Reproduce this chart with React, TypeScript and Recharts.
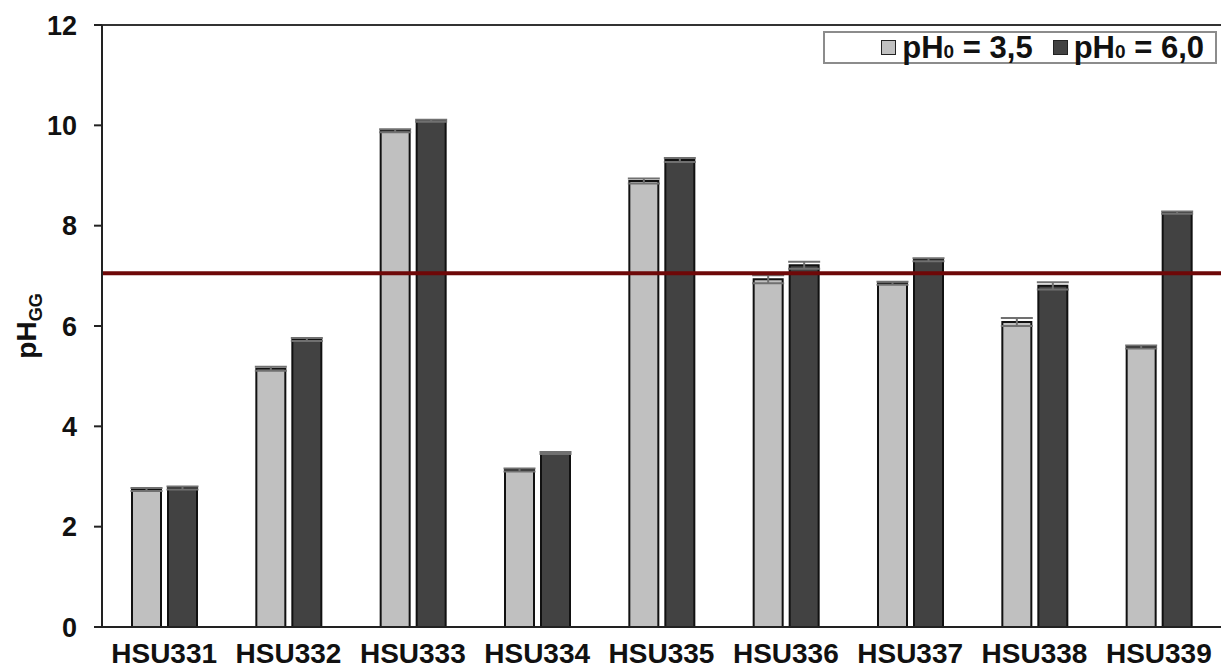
import { Bar, BarChart, ErrorBar, ReferenceLine, XAxis, YAxis } from "recharts";

const categories = ["HSU331", "HSU332", "HSU333", "HSU334", "HSU335", "HSU336", "HSU337", "HSU338", "HSU339"];
const ph35 = [2.74, 5.15, 9.89, 3.13, 8.89, 6.93, 6.85, 6.08, 5.58];
const ph60 = [2.77, 5.73, 10.09, 3.47, 9.31, 7.21, 7.32, 6.8, 8.26];
const err35 = [0.03, 0.04, 0.03, 0.03, 0.05, 0.08, 0.03, 0.08, 0.03];
const err60 = [0.03, 0.03, 0.02, 0.02, 0.04, 0.07, 0.03, 0.07, 0.02];
const yTicks = [0, 2, 4, 6, 8, 10, 12];
const threshold = 7.05;

const data = categories.map((name, i) => ({
  name,
  a: ph35[i],
  b: ph60[i],
  ea: err35[i],
  eb: err60[i],
}));

const font = "'Liberation Sans', Arial, sans-serif";
const lightFill = "#c0c0c0";
const darkFill = "#424242";

function YLabel() {
  return (
    <text
      x={0}
      y={0}
      transform="translate(36, 326) rotate(-90)"
      textAnchor="middle"
      fontFamily={font}
      fontWeight="bold"
      fontSize={28}
      fill="#111"
    >
      pH
      <tspan fontSize={18} dy={6}>
        GG
      </tspan>
    </text>
  );
}

function LegendBox() {
  const item = (fill: string, label: string, gap: number) => (
    <span style={{ display: "inline-flex", alignItems: "center", marginLeft: gap }}>
      <span
        style={{
          display: "inline-block",
          boxSizing: "border-box",
          width: 15,
          height: 15,
          background: fill,
          border: "1.5px solid #222",
          marginRight: 6,
        }}
      />
      <span>
        pH<span style={{ fontSize: 19 }}>0</span> = {label}
      </span>
    </span>
  );
  return (
    <div
      style={{
        position: "absolute",
        left: 823,
        top: 31,
        boxSizing: "border-box",
        width: 394,
        height: 33,
        border: "2px solid #8c8c8c",
        display: "flex",
        justifyContent: "flex-end",
        alignItems: "center",
        paddingRight: 11,
        fontFamily: font,
        fontWeight: "bold",
        fontSize: 31,
        color: "#111",
        background: "#fff",
        lineHeight: 1,
      }}
    >
      {item(lightFill, "3,5", 0)}
      {item(darkFill, "6,0", 20)}
    </div>
  );
}

export default function App() {
  return (
    <div style={{ position: "absolute", left: 0, top: 0, width: 1221, height: 672, background: "#fff" }}>
      <BarChart
        width={1221}
        height={672}
        data={data}
        margin={{ top: 25, right: 0, bottom: 0, left: 0 }}
        barSize={29}
        barGap={7}
      >
        <XAxis
          dataKey="name"
          height={45}
          axisLine={{ stroke: "#222", strokeWidth: 2 }}
          tickLine={false}
          tickSize={0}
          tickMargin={16}
          tick={{ fontFamily: font, fontWeight: "bold", fontSize: 28, fill: "#111" }}
          interval={0}
        />
        <YAxis
          width={102}
          domain={[0, 12]}
          ticks={yTicks}
          axisLine={{ stroke: "#222", strokeWidth: 2 }}
          tickLine={{ stroke: "#222", strokeWidth: 2 }}
          tickSize={8}
          tickMargin={17}
          tick={{ fontFamily: font, fontWeight: "bold", fontSize: 27, fill: "#111" }}
          label={<YLabel />}
        />
        <ReferenceLine y={12} stroke="#333" strokeWidth={2} />
        <Bar dataKey="a" fill={lightFill} stroke="#111" strokeWidth={2} isAnimationActive={false}>
          <ErrorBar dataKey="ea" width={16} stroke="#707070" strokeWidth={2} />
        </Bar>
        <Bar dataKey="b" fill={darkFill} stroke="#111" strokeWidth={2} isAnimationActive={false}>
          <ErrorBar dataKey="eb" width={16} stroke="#707070" strokeWidth={2} />
        </Bar>
        <ReferenceLine y={threshold} stroke="#6e0808" strokeWidth={4} />
      </BarChart>
      <LegendBox />
    </div>
  );
}
